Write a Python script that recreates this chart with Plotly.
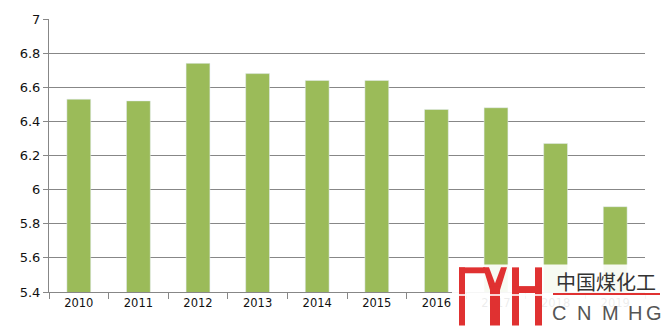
import plotly.graph_objects as go

years = ["2010", "2011", "2012", "2013", "2014", "2015", "2016", "2017", "2018", "2019"]
values = [6.53, 6.52, 6.74, 6.68, 6.64, 6.64, 6.47, 6.48, 6.27, 5.90]
y_ticks = [5.4, 5.6, 5.8, 6.0, 6.2, 6.4, 6.6, 6.8, 7.0]
y_tick_text = ["5.4", "5.6", "5.8", "6", "6.2", "6.4", "6.6", "6.8", "7"]

W, H = 662, 330
L, R, T, B = 49, 17, 15, 38
pw, ph = W - L - R, H - T - B

def px(x):
    return (x - L) / pw

def py(y):
    return (H - B - y) / ph

fig = go.Figure()
fig.add_trace(go.Bar(x=years, y=values, marker_color="#9BBB59", width=0.4))

grid = "#878787"
fig.update_layout(
    width=W, height=H,
    margin=dict(l=L, r=R, t=T, b=B),
    plot_bgcolor="white", paper_bgcolor="white",
    showlegend=False,
    font=dict(family="DejaVu Sans", size=12, color="#111"),
    xaxis=dict(
        type="category", showgrid=False, ticks="outside", tickson="boundaries",
        ticklen=6, tickcolor=grid, showline=True, linecolor=grid, linewidth=1,
        tickfont=dict(size=11.5, color="#111"),
    ),
    yaxis=dict(
        range=[5.4, 7.0], tickvals=y_ticks, ticktext=y_tick_text,
        showgrid=True, gridcolor=grid, gridwidth=1,
        ticks="outside", ticklen=5, tickcolor=grid,
        showline=True, linecolor=grid, zeroline=False,
        tickfont=dict(size=13, color="#111"),
    ),
    bargap=0.6,
)

# watermark logo (decoration)
shapes = []
def rect(x0, y0, x1, y1, color, opacity=1.0):
    shapes.append(dict(type="rect", xref="paper", yref="paper",
                       x0=px(x0), x1=px(x1), y0=py(y1), y1=py(y0),
                       fillcolor=color, line=dict(width=0), opacity=opacity, layer="above"))

rect(452, 264, 662, 330, "white", 0.92)
red = "#E03131"
rect(459, 267, 465, 326, red)          # left vertical
rect(459, 267, 485, 273, red)          # top bar
shapes.append(dict(type="path", xref="paper", yref="paper", layer="above",
                   path="M {} {} L {} {} L {} {} L {} {} L {} {} L {} {} L {} {} L {} {} Z".format(
                       px(483), py(267), px(489), py(267), px(495), py(283),
                       px(501), py(267), px(507), py(267), px(500), py(290),
                       px(490), py(290), px(483), py(267)),
                   fillcolor=red, line=dict(width=0)))
rect(490, 286, 500, 326, red)          # Y stem
rect(512, 267, 519, 326, red)          # H left
rect(535, 267, 542, 326, red)          # H right
rect(512, 286, 542, 293, red)          # H crossbar
rect(455, 294, 545, 296, "white", 0.8)  # thin white gap
rect(553, 293, 660, 295, red)          # red underline

fig.update_layout(shapes=shapes)
fig.add_annotation(xref="paper", yref="paper", x=px(606), y=py(281), text="中国煤化工",
                   showarrow=False, font=dict(family="Noto Sans CJK SC", size=20, color="#333"),
                   xanchor="center", yanchor="middle")
for letter, cx in zip("CNMHG", [559, 584, 610, 635, 654]):
    fig.add_annotation(xref="paper", yref="paper", x=px(cx), y=py(313), text=letter,
                       showarrow=False, font=dict(family="Liberation Sans", size=20, color="#555"),
                       xanchor="center", yanchor="middle")

fig.write_html("out.html")
